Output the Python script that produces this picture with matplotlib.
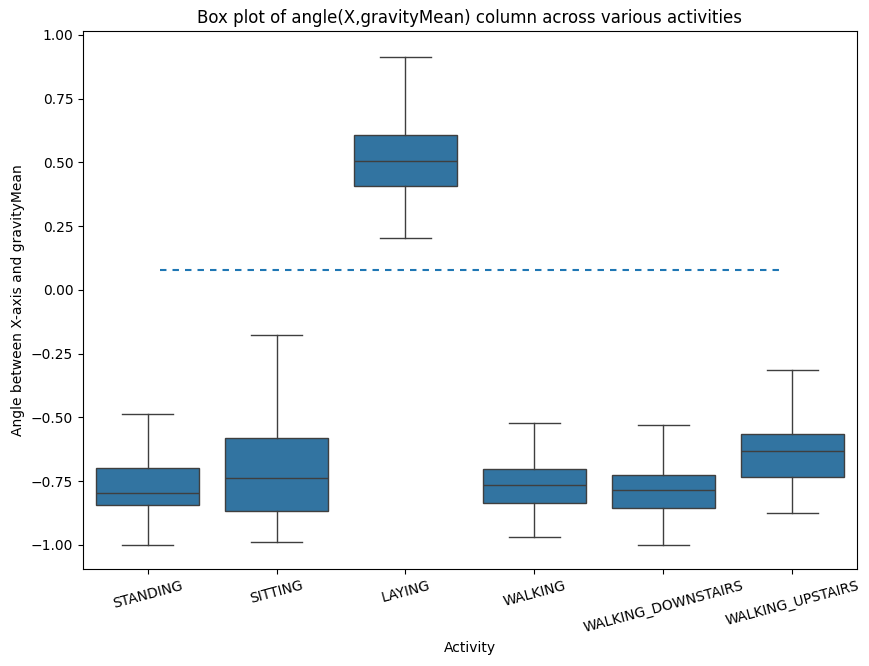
import matplotlib
matplotlib.use("Agg")
import matplotlib.pyplot as plt

# box stats (showfliers=False)
activities = ['STANDING', 'SITTING', 'LAYING', 'WALKING', 'WALKING_DOWNSTAIRS', 'WALKING_UPSTAIRS']
whislo = [-1.000, -0.989, 0.202, -0.969, -1.000, -0.876]
q1 = [-0.845, -0.868, 0.406, -0.837, -0.857, -0.736]
med = [-0.796, -0.739, 0.507, -0.767, -0.786, -0.634]
q3 = [-0.700, -0.583, 0.608, -0.704, -0.728, -0.564]
whishi = [-0.486, -0.179, 0.914, -0.521, -0.531, -0.314]
threshold = 0.078

stats = []
for i, name in enumerate(activities):
    stats.append({'label': name, 'whislo': whislo[i], 'q1': q1[i], 'med': med[i],
                  'q3': q3[i], 'whishi': whishi[i], 'fliers': []})

fig = plt.figure(figsize=(8.7, 6.66), dpi=100)
ax = fig.add_axes([83 / 870, 1 - 569 / 666, 774 / 870, 538 / 666])

line_col = '#3f3f3f'
lw = 1.0
ax.bxp(stats, positions=range(len(activities)), widths=0.8, patch_artist=True,
       showfliers=False,
       boxprops=dict(facecolor='#3274a1', edgecolor=line_col, linewidth=lw),
       medianprops=dict(color=line_col, linewidth=lw),
       whiskerprops=dict(color=line_col, linewidth=lw),
       capprops=dict(color=line_col, linewidth=lw),
       capwidths=0.4)

ax.axhline(y=threshold, xmin=0.1, xmax=0.9, linestyle='--', dashes=(3.1, 2.9),
           color='#1f77b4', linewidth=1.5)

ax.set_xlim(-0.5, len(activities) - 0.5)
ax.set_ylim(-1.095, 1.015)
ax.set_xticks(range(len(activities)))
ax.set_xticklabels(activities, rotation=15)
ax.set_yticks([-1.0, -0.75, -0.5, -0.25, 0.0, 0.25, 0.5, 0.75, 1.0])
ax.set_title('Box plot of angle(X,gravityMean) column across various activities')
ax.set_xlabel('Activity')
ax.set_ylabel('Angle between X-axis and gravityMean')

fig.savefig('out.png', dpi=100)
